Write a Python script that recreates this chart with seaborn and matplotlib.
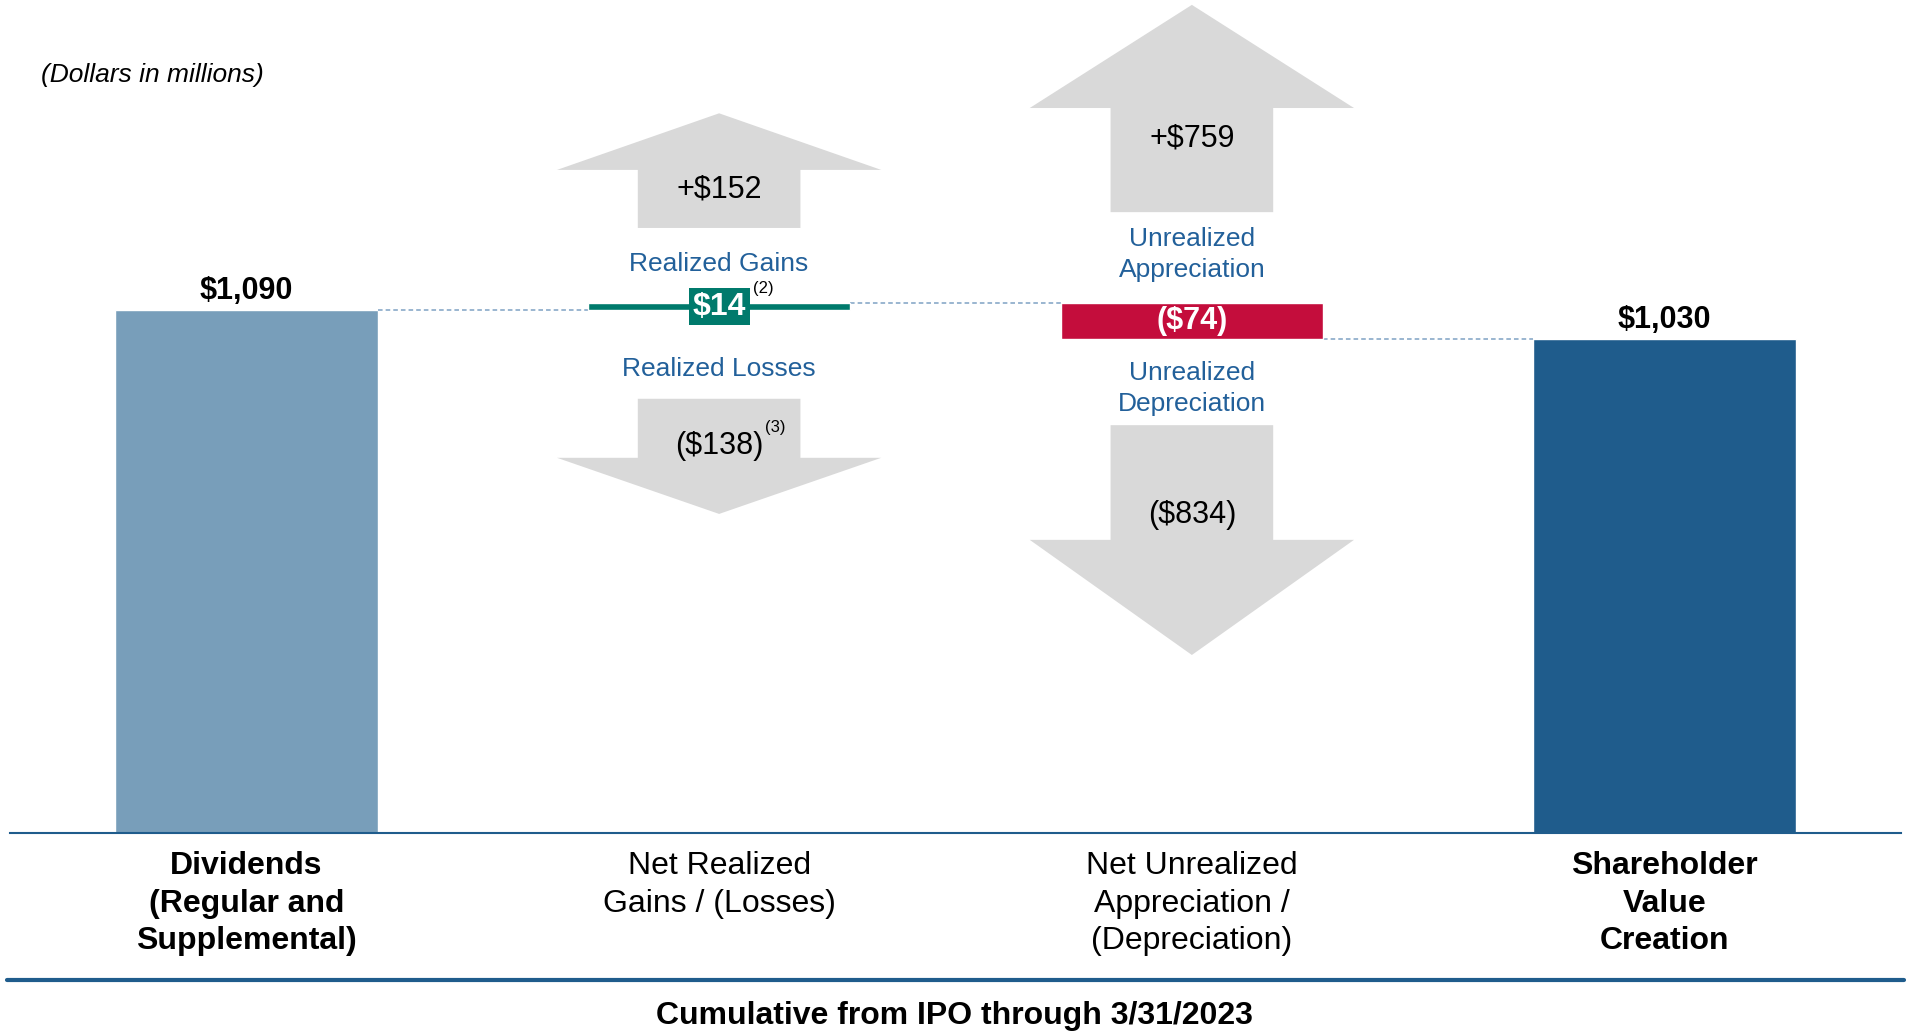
import pandas as pd
import seaborn as sns
import matplotlib.pyplot as plt
from matplotlib.patches import Polygon
from matplotlib.lines import Line2D

# chart data (dollars in millions)
categories = ["Dividends\n(Regular and\nSupplemental)", "Net Realized\nGains / (Losses)",
              "Net Unrealized\nAppreciation /\n(Depreciation)", "Shareholder\nValue\nCreation"]
total_cats = [categories[0], categories[3]]
total_values = [1090, 1030]
net_values = [14, -74]
gain_values = [152, 759]
loss_values = [-138, -834]
gain_names = ["Realized Gains", "Unrealized\nAppreciation"]
loss_names = ["Realized Losses", "Unrealized\nDepreciation"]

LIGHT = "#789eba"
DARK = "#1f5c8c"
GREEN = "#007a6c"
RED = "#c40d3c"
GREY = "#d9d9d9"
TXTBLUE = "#22609a"
DASH = "#7fa2c4"

sns.set_style("white")
plt.rcParams["font.family"] = ["Liberation Sans", "DejaVu Sans"]
plt.rcParams["text.color"] = "black"
plt.rcParams["xtick.color"] = "black"

fig = plt.figure(figsize=(19.08, 10.32), dpi=100)
ax = fig.add_axes([10 / 1908, 1 - 833 / 1032, 1891 / 1908, 833 / 1032])

df = pd.DataFrame({"cat": total_cats, "val": total_values})
sns.barplot(data=df, x="cat", y="val", order=categories, hue="cat",
            palette={total_cats[0]: LIGHT, total_cats[1]: DARK},
            width=0.555, legend=False, ax=ax, saturation=1)

# floating waterfall bars
level = total_values[0]
levels = [level]
net_colors = [GREEN, RED]
for i, v in enumerate(net_values):
    ax.bar(i + 1, v, bottom=level, width=0.555, color=net_colors[i], zorder=3)
    level += v
    levels.append(level)

# dashed connectors between bars
for i in range(3):
    ax.plot([i + 0.2775, i + 1 - 0.2775], [levels[i]] * 2,
            ls=(0, (3, 2)), lw=1.1, color=DASH, zorder=2)

ax.set_xlim(-0.5, 3.5)
ax.set_ylim(0, 833 / 0.4798)

# value labels on totals
for x, v in zip([0, 3], total_values):
    ax.annotate(f"${v:,}", (x, v), xytext=(0, 8), textcoords="offset points",
                ha="center", va="baseline", fontsize=22, fontweight="bold")

# grey arrows: (tail, head base, tip)
arrow_up = [(1261, 1382, 1500), (1294, 1511, 1726)]
arrow_dn = [(905, 782, 665), (850, 611, 371)]
shaft_hw, head_hw = 0.172, 0.343


def draw_arrow(x, tail, base, tip):
    pts = [(x - shaft_hw, tail), (x - shaft_hw, base), (x - head_hw, base), (x, tip),
           (x + head_hw, base), (x + shaft_hw, base), (x + shaft_hw, tail)]
    ax.add_patch(Polygon(pts, closed=True, facecolor=GREY, edgecolor="none", zorder=1))


for i in range(2):
    draw_arrow(i + 1, *arrow_up[i])
    draw_arrow(i + 1, *arrow_dn[i])

gain_y = [1342, 1447]
gain_name_y = [1185, 1205]
loss_name_y = [968, 926]
loss_y = [807, 663]
for i in range(2):
    x = i + 1
    ax.text(x, gain_y[i], f"+${gain_values[i]}", ha="center", va="center", fontsize=22)
    ax.text(x, gain_name_y[i], gain_names[i], ha="center", va="center", fontsize=19,
            color=TXTBLUE, linespacing=1.38)
    ax.text(x, loss_name_y[i], loss_names[i], ha="center", va="center", fontsize=19,
            color=TXTBLUE, linespacing=1.38)
    ax.text(x, loss_y[i], f"(${-loss_values[i]})", ha="center", va="center", fontsize=22)

# net labels
ax.text(1, levels[0] + net_values[0] / 2, f"${net_values[0]}", ha="center", va="center",
        fontsize=23, fontweight="bold", color="white", zorder=4,
        bbox=dict(boxstyle="square,pad=0.12", facecolor=GREEN, edgecolor="none"))
ax.text(2, levels[1] + net_values[1] / 2, f"(${-net_values[1]})", ha="center", va="center",
        fontsize=22, fontweight="bold", color="white", zorder=4)
ax.text(1.094, 1134, "(2)", ha="center", va="center", fontsize=12)
ax.text(1.119, 846, "(3)", ha="center", va="center", fontsize=12)

# axes styling
ax.set_xticks(range(4))
ax.set_xticklabels(categories, fontsize=23, linespacing=1.33)
for i in (0, 3):
    ax.get_xticklabels()[i].set_fontweight("bold")
ax.tick_params(axis="x", length=0, pad=13)
ax.set_yticks([])
ax.set_xlabel("")
ax.set_ylabel("")
sns.despine(ax=ax, left=True)
ax.spines["bottom"].set_color(DARK)
ax.spines["bottom"].set_linewidth(1.5)

fig.text(41 / 1908, 1 - 75 / 1032, "(Dollars in millions)", fontsize=19, style="italic",
         ha="left", va="center")
fig.add_artist(Line2D([7 / 1908, 1904 / 1908], [1 - 980 / 1032] * 2, color=DARK, lw=3))
fig.text(0.5, 1 - 1016 / 1032, "Cumulative from IPO through 3/31/2023", fontsize=23,
         fontweight="bold", ha="center", va="center")

fig.savefig("out.png", dpi=100)
